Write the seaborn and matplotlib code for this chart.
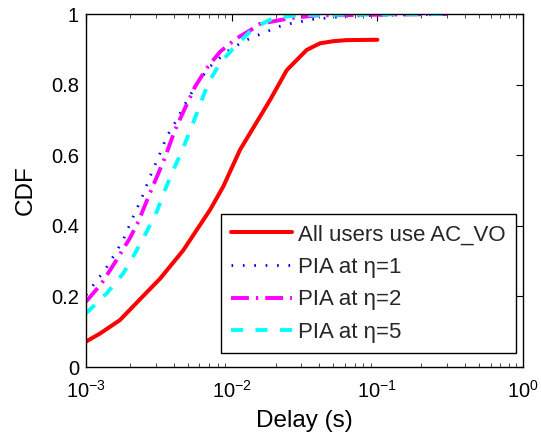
import numpy as np
import pandas as pd
import matplotlib
matplotlib.use("Agg")
import matplotlib.pyplot as plt
import seaborn as sns
from matplotlib.ticker import LogLocator, FixedLocator, FixedFormatter, NullFormatter

# Delay CDF samples (delay in seconds, cumulative probability)
ac_vo_delay = [1.00e-3, 1.25e-3, 1.71e-3, 2.35e-3, 3.22e-3, 4.66e-3, 5.75e-3, 7.10e-3,
               8.75e-3, 1.14e-2, 1.832e-2, 2.39e-2, 3.27e-2, 4.04e-2, 5.0e-2, 6.15e-2, 1.0e-1]
ac_vo_cdf = [0.072, 0.095, 0.133, 0.192, 0.250, 0.331, 0.388, 0.445,
             0.511, 0.615, 0.756, 0.841, 0.898, 0.917, 0.923, 0.926, 0.927]

eta1_delay = [1.00e-3, 1.15e-3, 1.35e-3, 1.54e-3, 1.80e-3, 2.11e-3, 2.41e-3, 2.75e-3,
              3.22e-3, 3.58e-3, 4.19e-3, 5.03e-3, 5.90e-3, 7.10e-3, 9.25e-3, 1.20e-2,
              1.41e-2, 2.26e-2, 3.63e-2, 6.15e-2, 3.0e-1]
eta1_cdf = [0.204, 0.238, 0.275, 0.313, 0.360, 0.426, 0.478, 0.539,
            0.605, 0.652, 0.700, 0.761, 0.808, 0.851, 0.893, 0.922,
            0.935, 0.969, 0.985, 0.994, 1.0]

eta2_delay = [1.00e-3, 1.28e-3, 1.62e-3, 2.00e-3, 2.29e-3, 2.68e-3, 3.14e-3, 3.48e-3,
              4.08e-3, 4.78e-3, 5.60e-3, 6.73e-3, 8.32e-3, 1.08e-2, 1.407e-2, 1.56e-2,
              2.51e-2, 3.8e-2, 3.0e-1]
eta2_cdf = [0.185, 0.237, 0.303, 0.365, 0.412, 0.482, 0.549, 0.593,
            0.671, 0.733, 0.794, 0.846, 0.893, 0.931, 0.959, 0.972,
            0.988, 0.996, 1.0]

eta5_delay = [1.00e-3, 1.39e-3, 1.80e-3, 2.17e-3, 2.54e-3, 3.06e-3, 3.48e-3, 3.97e-3,
              4.54e-3, 5.31e-3, 6.05e-3, 6.90e-3, 8.30e-3, 1.026e-2, 1.337e-2, 1.56e-2,
              1.93e-2, 2.94e-2, 3.0e-1]
eta5_cdf = [0.152, 0.209, 0.265, 0.322, 0.374, 0.440, 0.501, 0.558,
            0.610, 0.681, 0.742, 0.804, 0.860, 0.903, 0.950, 0.969,
            0.988, 0.997, 1.0]

series_labels = ["All users use AC_VO", "PIA at η=1", "PIA at η=2", "PIA at η=5"]
y_ticks = [0, 0.2, 0.4, 0.6, 0.8, 1]
y_tick_labels = ["0", "0.2", "0.4", "0.6", "0.8", "1"]

frames = []
for lab, xs, ys in zip(series_labels,
                       [ac_vo_delay, eta1_delay, eta2_delay, eta5_delay],
                       [ac_vo_cdf, eta1_cdf, eta2_cdf, eta5_cdf]):
    frames.append(pd.DataFrame({"delay": xs, "cdf": ys, "scheme": lab}))
df = pd.concat(frames, ignore_index=True)

sns.set_theme(style="white")
plt.rcParams["font.family"] = ["Liberation Sans", "DejaVu Sans"]
plt.rcParams["mathtext.fontset"] = "custom"
plt.rcParams["mathtext.rm"] = "Liberation Sans"
plt.rcParams["mathtext.it"] = "Liberation Sans:italic"
plt.rcParams["mathtext.default"] = "regular"

styles = {
    series_labels[0]: dict(color="#ff0000", lw=2.9, ls="-"),
    series_labels[1]: dict(color="#0000ff", lw=2.0, ls=(0, (0.6, 3.5))),
    series_labels[2]: dict(color="#ff00ff", lw=2.8, ls=(0, (4.6, 1.8, 0.6, 1.8))),
    series_labels[3]: dict(color="#00ffff", lw=2.8, ls=(0, (3.1, 3.2))),
}

fig = plt.figure(figsize=(5.41, 4.40), dpi=100)
ax = fig.add_axes([86 / 541, 1 - 367 / 440, 437 / 541, 353 / 440])

for lab in series_labels:
    st = styles[lab]
    sns.lineplot(data=df[df["scheme"] == lab], x="delay", y="cdf", ax=ax,
                 color=st["color"], linewidth=st["lw"], linestyle=st["ls"],
                 label=lab, estimator=None, sort=False)

ax.set_xscale("log")
ax.set_xlim(1e-3, 1e0)
ax.set_ylim(0, 1)
ax.xaxis.set_major_locator(LogLocator(base=10, numticks=10))
ax.xaxis.set_minor_locator(LogLocator(base=10, subs=np.arange(2, 10), numticks=40))
ax.xaxis.set_minor_formatter(NullFormatter())
ax.yaxis.set_major_locator(FixedLocator(y_ticks))
ax.yaxis.set_major_formatter(FixedFormatter(y_tick_labels))

ax.tick_params(axis="both", which="major", direction="in", length=5, width=0.8,
               top=True, right=True, labelsize=14.5, colors="black")
ax.tick_params(axis="y", which="major", pad=5)
ax.tick_params(axis="x", which="major", pad=9)
ax.tick_params(axis="x", which="minor", direction="in", length=3, width=0.6,
               top=True, bottom=True)
for s in ax.spines.values():
    s.set_color("black")
    s.set_linewidth(1.0)

ax.set_xlabel("Delay (s)", fontsize=17.5, color="black", labelpad=6)
ax.set_ylabel("CDF", fontsize=17.5, color="black", labelpad=10)

leg = ax.legend(loc="lower right", bbox_to_anchor=(0.984, 0.040), fontsize=16,
                frameon=True, fancybox=False, edgecolor="black", framealpha=1,
                handlelength=2.75, handletextpad=0.27, labelspacing=0.52,
                borderpad=0.45, borderaxespad=0)
leg.get_frame().set_linewidth(1.0)

fig.savefig("out.png", dpi=100)
